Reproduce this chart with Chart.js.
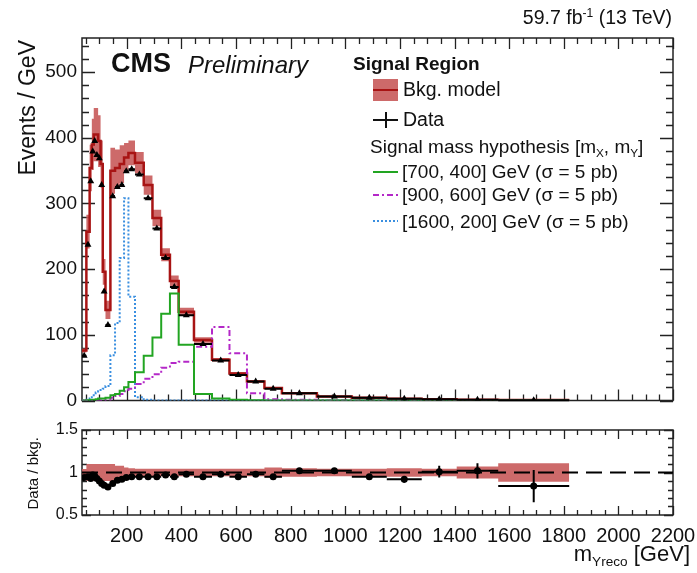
<!DOCTYPE html>
<html>
<head>
<meta charset="utf-8">
<script src="https://cdn.jsdelivr.net/npm/chart.js@4.4.1/dist/chart.umd.min.js"></script>
<style>
  body { margin: 0; background: #fff; width: 697px; height: 573px; position: relative; overflow: hidden;
         font-family: "Liberation Sans", Arial, sans-serif; color: #111; }
  canvas { position: absolute; left: 0; }
  #main { top: 0; }
  #ratio { top: 410px; }
  .t { position: absolute; white-space: nowrap; line-height: 1; }
  .sym { position: absolute; }
  sub { font-size: 0.62em; vertical-align: -0.35em; line-height: 0; }
  sup { font-size: 0.62em; vertical-align: 0.6em; line-height: 0; }
</style>
</head>
<body>
<canvas id="main" width="697" height="420"></canvas>
<canvas id="ratio" width="697" height="163"></canvas>

<div class="t" style="right:25px; top:8px; font-size:19.5px">59.7 fb<sup>-1</sup> (13 TeV)</div>
<div class="t" style="left:111px; top:50px; font-size:27px; font-weight:bold">CMS</div>
<div class="t" style="left:188px; top:53px; font-size:24px; font-style:italic">Preliminary</div>

<div class="t" style="left:353px; top:54px; font-size:19px; font-weight:bold">Signal Region</div>
<div class="sym" style="left:373px; top:79px; width:25px; height:22px; background:rgba(200,90,90,0.9)"></div>
<div class="sym" style="left:373px; top:89px; width:25px; height:2px; background:#a81414"></div>
<div class="t" style="left:403px; top:80px; font-size:19.5px">Bkg. model</div>
<div class="sym" style="left:373px; top:119px; width:25px; height:2px; background:#111"></div>
<div class="sym" style="left:385px; top:112px; width:2px; height:16px; background:#111"></div>
<div class="t" style="left:403px; top:110px; font-size:19.5px">Data</div>
<div class="t" style="left:370px; top:137px; font-size:19px">Signal mass hypothesis [m<sub>X</sub>, m<sub>Y</sub>]</div>
<div class="sym" style="left:373px; top:171px; width:25px; height:2px; background:#22a522"></div>
<div class="t" style="left:402px; top:162px; font-size:19px">[700, 400] GeV (σ = 5 pb)</div>
<div class="sym" style="left:373px; top:194px; width:25px; height:2px; background:repeating-linear-gradient(to right, #b428c8 0 6px, transparent 6px 9px, #b428c8 9px 11px, transparent 11px 14px)"></div>
<div class="t" style="left:402px; top:185px; font-size:19px">[900, 600] GeV (σ = 5 pb)</div>
<div class="sym" style="left:373px; top:220px; width:25px; height:2px; background:repeating-linear-gradient(to right, #3a8fe0 0 2px, transparent 2px 4px)"></div>
<div class="t" style="left:402px; top:212px; font-size:19px">[1600, 200] GeV (σ = 5 pb)</div>

<div class="t" style="left:14px; top:340px; width:300px; text-align:right; font-size:23px; line-height:26px; transform:rotate(-90deg); transform-origin:left top">Events / GeV</div>
<div class="t" style="left:24px; top:637px; width:200px; text-align:right; font-size:15px; line-height:18px; transform:rotate(-90deg); transform-origin:left top">Data / bkg.</div>
<div class="t" style="right:7px; top:543px; font-size:22px">m<sub>Yreco</sub> [GeV]</div>

<script>
// bin edges of the m_Yreco histogram (GeV)
const binEdges = [36, 52, 64, 72, 79, 86, 95, 104, 112, 122, 140, 157, 174, 190, 206, 230, 262, 294, 326, 358, 390, 446, 512, 576, 640, 704, 768, 896, 1024, 1152, 1280, 1408, 1560, 1820];

// background model (events / GeV) and its relative uncertainty
const bkgModel = [76, 257, 354, 390, 405, 405, 395, 360, 196, 138, 350, 354, 360, 370, 377, 362, 328, 278, 222, 182, 135, 92, 62, 41, 29, 19, 11, 6, 4.3, 2.7, 1.8, 1.2, 0.6];
const bkgRelUnc = [0.04, 0.10, 0.10, 0.10, 0.10, 0.10, 0.10, 0.10, 0.10, 0.10, 0.10, 0.08, 0.08, 0.06, 0.05, 0.045, 0.045, 0.045, 0.045, 0.045, 0.045, 0.045, 0.045, 0.045, 0.045, 0.06, 0.05, 0.045, 0.045, 0.05, 0.045, 0.07, 0.11];

// observed data (events / GeV)
const dataYield = [68, 237, 334, 379, 395, 374, 369, 328, 166, 115, 311, 325, 328, 349, 352, 344, 308, 262, 217, 173, 130, 86, 61, 39, 29, 18, 11.2, 6.1, 4.1, 2.5, 1.8, 1.2, 0.5];

// data / bkg. ratio panel
const ratioVals = [0.94, 0.95, 0.93, 0.97, 0.96, 0.93, 0.90, 0.87, 0.85, 0.83, 0.87, 0.91, 0.92, 0.94, 0.95, 0.95, 0.95, 0.95, 0.97, 0.95, 0.98, 0.95, 0.98, 0.95, 0.98, 0.95, 1.02, 1.02, 0.95, 0.92, 1.01, 1.02, 0.84];
const ratioErr = [0.01, 0.01, 0.01, 0.01, 0.01, 0.01, 0.01, 0.01, 0.01, 0.01, 0.01, 0.01, 0.01, 0.01, 0.01, 0.01, 0.01, 0.01, 0.01, 0.01, 0.01, 0.01, 0.01, 0.015, 0.015, 0.02, 0.02, 0.02, 0.03, 0.04, 0.07, 0.09, 0.19];

// signal hypotheses, sigma = 5 pb
const sigX700Y400 = [0, 0.5, 1, 1, 1, 2, 3, 3, 3, 4, 8, 10, 15, 20, 28, 43, 68, 96, 132, 163, 85, 10, 3, 1, 0.5, 0, 0, 0, 0, 0, 0, 0, 0];
const sigX900Y600 = [0, 0, 0, 0, 0, 0, 0, 0, 0, 1, 4, 7, 10, 14, 18, 25, 33, 40, 50, 57, 59, 82, 112, 72, 11, 2, 1, 0, 0, 0, 0, 0, 0];
const sigX1600Y200 = [0, 1, 3, 5, 8, 12, 14, 16, 18, 22, 69, 118, 217, 308, 158, 5, 1, 0, 0, 0, 0, 0, 0, 0, 0, 0, 0, 0, 0, 0, 0, 0, 0];

// axis tick labels
const xTickLabels = [200, 400, 600, 800, 1000, 1200, 1400, 1600, 1800, 2000, 2200];
const yTickLabels = [0, 100, 200, 300, 400, 500];
const ratioTickLabels = [0.5, 1, 1.5];

const X_MIN = 36, X_MAX = 2200;
const FONT = '"Liberation Sans", Arial, sans-serif';

function steps(vals) {
  const pts = vals.map((v, i) => ({ x: binEdges[i], y: v }));
  pts.push({ x: binEdges[vals.length], y: vals[vals.length - 1] });
  return pts;
}
const centers = binEdges.slice(0, -1).map((e, i) => (e + binEdges[i + 1]) / 2);

// frame + inward ROOT style ticks
const framePlugin = {
  id: 'frame',
  beforeDatasetsDraw(chart, args, o) {
    const { ctx, chartArea: a, scales: { x, y } } = chart;
    ctx.save();
    ctx.strokeStyle = '#222';
    ctx.lineWidth = 1.3;
    ctx.beginPath();
    for (let v = 50; v <= X_MAX; v += 50) {
      const px = Math.round(x.getPixelForValue(v)) + 0.5;
      const len = v % 200 === 0 ? o.xMajor : o.xMinor;
      ctx.moveTo(px, a.bottom); ctx.lineTo(px, a.bottom - len);
      ctx.moveTo(px, a.top); ctx.lineTo(px, a.top + len);
    }
    for (let k = o.yFrom; k <= o.yTo; k++) {
      const v = k * o.yStep;
      const py = Math.round(y.getPixelForValue(v)) + 0.5;
      const len = k % o.yEvery === 0 ? o.yMajor : o.yMinor;
      ctx.moveTo(a.left, py); ctx.lineTo(a.left + len, py);
      ctx.moveTo(a.right, py); ctx.lineTo(a.right - len, py);
    }
    ctx.stroke();
    ctx.lineWidth = 1.5;
    ctx.strokeRect(a.left, a.top, a.right - a.left, a.bottom - a.top);
    ctx.restore();
  }
};

// bin-width bars and vertical errors for data points
const errorPlugin = {
  id: 'errbars',
  afterDatasetsDraw(chart) {
    const { ctx, scales: { x, y } } = chart;
    chart.data.datasets.forEach(ds => {
      if (!ds.errBars) return;
      ctx.save();
      ctx.strokeStyle = '#000';
      ctx.lineWidth = 2;
      ctx.beginPath();
      ds.data.forEach((p, i) => {
        const py = y.getPixelForValue(p.y);
        ctx.moveTo(x.getPixelForValue(binEdges[i]), py);
        ctx.lineTo(x.getPixelForValue(binEdges[i + 1]), py);
        if (p.err) {
          const px = x.getPixelForValue(p.x);
          ctx.moveTo(px, y.getPixelForValue(p.y - p.err));
          ctx.lineTo(px, y.getPixelForValue(p.y + p.err));
        }
      });
      ctx.stroke();
      ctx.restore();
    });
  }
};

function lineSet(vals, color, extra) {
  return Object.assign({
    data: steps(vals), stepped: 'before', borderColor: color, borderWidth: 2,
    pointRadius: 0, fill: false
  }, extra);
}

const bandColor = 'rgba(200, 90, 90, 0.9)';
const plainLabel = v => String(v);

new Chart(document.getElementById('main'), {
  type: 'line',
  data: {
    datasets: [
      lineSet(bkgModel.map((v, i) => v * (1 + bkgRelUnc[i])), bandColor, { borderWidth: 0, fill: '+1', backgroundColor: bandColor, order: 6 }),
      lineSet(bkgModel.map((v, i) => v * (1 - bkgRelUnc[i])), bandColor, { borderWidth: 0, order: 6 }),
      lineSet(bkgModel, '#a81414', { borderWidth: 2.5, order: 5 }),
      lineSet(sigX700Y400, '#22a522', { order: 3 }),
      lineSet(sigX900Y600, '#b428c8', { borderDash: [6, 3, 2, 3], order: 3 }),
      lineSet(sigX1600Y200, '#3a8fe0', { borderDash: [2, 2], order: 3 }),
      {
        data: dataYield.map((v, i) => ({ x: centers[i], y: v })),
        showLine: false, pointStyle: 'triangle', pointRadius: 4,
        pointBackgroundColor: '#000', pointBorderColor: '#000', pointBorderWidth: 0,
        errBars: true, order: 0
      }
    ]
  },
  options: {
    responsive: false, animation: false, events: [],
    layout: { padding: { left: 0, right: 24, top: 38, bottom: 19.5 } },
    plugins: {
      legend: { display: false }, tooltip: { enabled: false },
      frame: { xMajor: 11, xMinor: 6, yFrom: 0, yTo: 27, yStep: 20, yEvery: 5, yMajor: 13, yMinor: 7 }
    },
    scales: {
      x: { type: 'linear', min: X_MIN, max: X_MAX, display: false },
      y: {
        min: 0, max: 552,
        grid: { display: false, drawTicks: false }, border: { display: false },
        ticks: { font: { family: FONT, size: 19 }, color: '#111', padding: 5, callback: plainLabel },
        afterBuildTicks: s => { s.ticks = yTickLabels.map(v => ({ value: v })); },
        afterFit: s => { s.width = 82; s.paddingTop = 0; s.paddingBottom = 0; }
      }
    }
  },
  plugins: [framePlugin, errorPlugin]
});

new Chart(document.getElementById('ratio'), {
  type: 'line',
  data: {
    datasets: [
      lineSet(bkgRelUnc.map(r => 1 + r), bandColor, { borderWidth: 0, fill: '+1', backgroundColor: bandColor, order: 6 }),
      lineSet(bkgRelUnc.map(r => 1 - r), bandColor, { borderWidth: 0, order: 6 }),
      {
        data: [{ x: X_MIN, y: 1 }, { x: X_MAX, y: 1 }], borderColor: '#000', borderWidth: 2,
        borderDash: [16, 8], pointRadius: 0, fill: false, order: 2
      },
      {
        data: ratioVals.map((v, i) => ({ x: centers[i], y: v, err: ratioErr[i] })),
        showLine: false, pointStyle: 'circle', pointRadius: 3.5,
        pointBackgroundColor: '#000', pointBorderColor: '#000', pointBorderWidth: 0,
        errBars: true, order: 0
      }
    ]
  },
  options: {
    responsive: false, animation: false, events: [],
    layout: { padding: { left: 0, right: 24, top: 20, bottom: 0 } },
    plugins: {
      legend: { display: false }, tooltip: { enabled: false },
      frame: { xMajor: 9, xMinor: 5, yFrom: 5, yTo: 15, yStep: 0.1, yEvery: 5, yMajor: 9, yMinor: 5 }
    },
    scales: {
      x: {
        type: 'linear', min: X_MIN, max: X_MAX,
        grid: { display: false, drawTicks: false }, border: { display: false },
        ticks: { font: { family: FONT, size: 20 }, color: '#111', padding: 9, maxRotation: 0, autoSkip: false, callback: plainLabel },
        afterBuildTicks: s => { s.ticks = xTickLabels.map(v => ({ value: v })); },
        afterFit: s => { s.height = 58; s.paddingLeft = 0; s.paddingRight = 0; }
      },
      y: {
        min: 0.5, max: 1.5,
        grid: { display: false, drawTicks: false }, border: { display: false },
        ticks: { font: { family: FONT, size: 16 }, color: '#111', padding: 4, callback: plainLabel },
        afterBuildTicks: s => { s.ticks = ratioTickLabels.map(v => ({ value: v })); },
        afterFit: s => { s.width = 82; s.paddingTop = 0; s.paddingBottom = 0; }
      }
    }
  },
  plugins: [framePlugin, errorPlugin]
});
</script>
</body>
</html>
